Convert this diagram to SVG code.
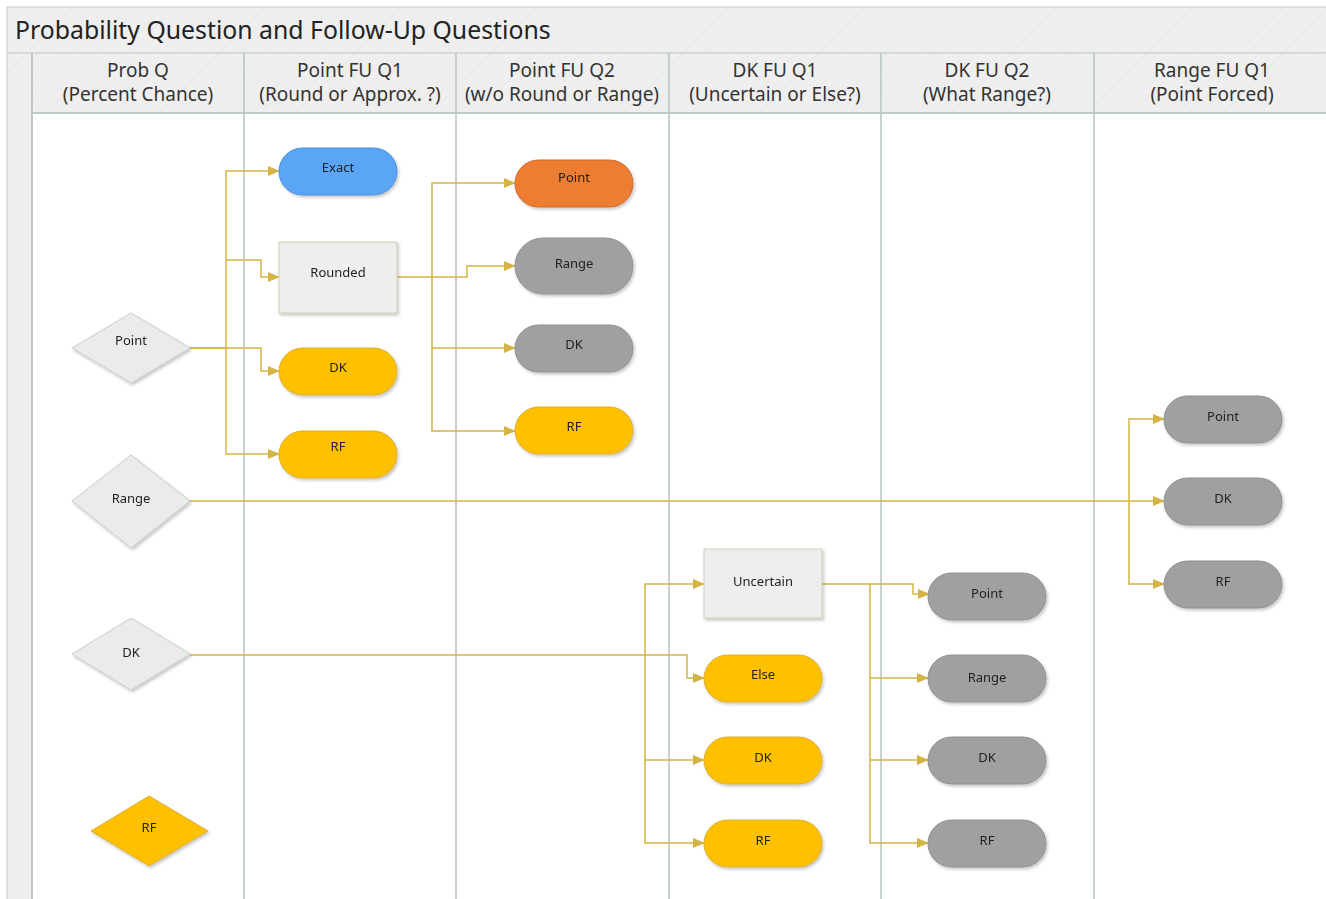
<svg xmlns="http://www.w3.org/2000/svg" width="1326" height="899" viewBox="0 0 1326 899">
<style>
.title{font-family:"Segoe UI","Noto Sans","Open Sans",sans-serif;font-size:24.8px;fill:#222}
.hdr{font-family:"Segoe UI","Noto Sans","Open Sans",sans-serif;font-size:19px;fill:#333;text-anchor:middle}
.lbl{font-family:"Segoe UI","Noto Sans","Open Sans",sans-serif;font-size:13px;fill:#222;text-anchor:middle}
.lane{stroke:#B6C3C3;stroke-width:1.5;fill:none}
.band{fill:#EFEFEF;stroke:#C9D2D0;stroke-width:1.2}
.conn path{fill:none;stroke:#D4B445;stroke-width:1.5;marker-end:url(#arr)}
.yel{fill:#FFC000;stroke:#D9AE3C;stroke-width:1}
.gry{fill:#A0A0A0;stroke:#8E9292;stroke-width:1}
.blu{fill:#5AA5F6;stroke:#4A90D8;stroke-width:1}
.org{fill:#ED7D31;stroke:#D06A28;stroke-width:1}
.lgt{fill:#EEEEEE;stroke:#CFCDB8;stroke-width:1}
.dia{fill:#EBEBEB;stroke:#C8CCCC;stroke-width:1}
.node{filter:url(#sh)}
.hat{fill:url(#hatch);pointer-events:none}
</style>
<defs>
<marker id="arr" markerWidth="12" markerHeight="10" refX="11" refY="5" orient="auto" markerUnits="userSpaceOnUse">
<path d="M0,0 L12,5 L0,10 Z" fill="#D4B445"/>
</marker>
<filter id="sh" x="-20%" y="-20%" width="140%" height="150%">
<feDropShadow dx="1.5" dy="2" stdDeviation="1.5" flood-color="#000" flood-opacity="0.22"/>
</filter>
<pattern id="hatch" width="8" height="8" patternUnits="userSpaceOnUse" patternTransform="rotate(45)">
<rect width="1" height="8" fill="#000" opacity="0.025"/>
</pattern>
</defs>

<rect x="0" y="0" width="1326" height="899" fill="#FFFFFF"/>
<rect class="band" x="7" y="7" width="1330" height="46"/>
<rect class="hat" x="7" y="7" width="1319" height="46"/>
<text class="title" x="15" y="39">Probability Question and Follow-Up Questions</text>
<rect class="band" x="7" y="53" width="25" height="850"/>
<rect class="band" x="32" y="53" width="1300" height="60"/>
<rect class="hat" x="7" y="53" width="1319" height="60"/>
<line class="lane" x1="32" y1="113" x2="1326" y2="113"/>
<line class="lane" x1="32" y1="53" x2="32" y2="899"/>
<line class="lane" x1="244" y1="53" x2="244" y2="899"/>
<line class="lane" x1="456" y1="53" x2="456" y2="899"/>
<line class="lane" x1="669" y1="53" x2="669" y2="899"/>
<line class="lane" x1="881" y1="53" x2="881" y2="899"/>
<line class="lane" x1="1094" y1="53" x2="1094" y2="899"/>

<g id="headers">
<text class="hdr" x="138" y="77">Prob Q</text><text class="hdr" x="138" y="101">(Percent Chance)</text>
<text class="hdr" x="350" y="77">Point FU Q1</text><text class="hdr" x="350" y="101">(Round or Approx. ?)</text>
<text class="hdr" x="562" y="77">Point FU Q2</text><text class="hdr" x="562" y="101">(w/o Round or Range)</text>
<text class="hdr" x="775" y="77">DK FU Q1</text><text class="hdr" x="775" y="101">(Uncertain or Else?)</text>
<text class="hdr" x="987" y="77">DK FU Q2</text><text class="hdr" x="987" y="101">(What Range?)</text>
<text class="hdr" x="1212" y="77">Range FU Q1</text><text class="hdr" x="1212" y="101">(Point Forced)</text>
</g>

<g id="connectors" class="conn">
<path d="M190,348 H226 V171 H279"/>
<path d="M226,260 H261 V277 H279"/>
<path d="M190,348 H261 V371 H279"/>
<path d="M226,348 V454 H279"/>
<path d="M397,277 H467 V266 H515"/>
<path d="M432,277 V183 H515"/>
<path d="M432,277 V431 H515"/>
<path d="M432,348 H515"/>
<path d="M190,501 H1164"/>
<path d="M1129,501 V419 H1164"/>
<path d="M1129,501 V584 H1164"/>
<path d="M190,655 H687 V678 H704"/>
<path d="M645,655 V584 H704"/>
<path d="M645,655 V843 H704"/>
<path d="M645,760 H704"/>
<path d="M822,584 H913 V594 H929"/>
<path d="M870,584 V843 H928"/>
<path d="M870,678 H928"/>
<path d="M870,760 H928"/>
</g>

<g id="n-point-q" class="node"><polygon class="dia" points="72,348 131,313 190,348 131,383"/><text class="lbl" x="131" y="345">Point</text></g>
<g id="n-range-q" class="node"><polygon class="dia" points="72,501 131,455 190,501 131,548"/><text class="lbl" x="131" y="503">Range</text></g>
<g id="n-dk-q" class="node"><polygon class="dia" points="72,654 131,618 190,654 131,690"/><text class="lbl" x="131" y="657">DK</text></g>
<g id="n-rf-q" class="node"><polygon class="yel" points="91,831 149,796 208,831 149,866"/><text class="lbl" x="149" y="832">RF</text></g>

<g id="n-exact" class="node"><rect class="blu" x="279" y="148" width="118" height="47" rx="23.5"/><text class="lbl" x="338" y="172">Exact</text></g>
<g id="n-rounded" class="node"><rect class="lgt" x="279" y="242" width="118" height="71"/><text class="lbl" x="338" y="277">Rounded</text></g>
<g id="n-dk1" class="node"><rect class="yel" x="279" y="348" width="118" height="47" rx="23.5"/><text class="lbl" x="338" y="372">DK</text></g>
<g id="n-rf1" class="node"><rect class="yel" x="279" y="431" width="118" height="47" rx="23.5"/><text class="lbl" x="338" y="451">RF</text></g>

<g id="n-point2" class="node"><rect class="org" x="515" y="160" width="118" height="47" rx="23.5"/><text class="lbl" x="574" y="182">Point</text></g>
<g id="n-range2" class="node"><rect class="gry" x="515" y="238" width="118" height="56" rx="28"/><text class="lbl" x="574" y="268">Range</text></g>
<g id="n-dk2" class="node"><rect class="gry" x="515" y="325" width="118" height="47" rx="23.5"/><text class="lbl" x="574" y="349">DK</text></g>
<g id="n-rf2" class="node"><rect class="yel" x="515" y="407" width="118" height="47" rx="23.5"/><text class="lbl" x="574" y="431">RF</text></g>

<g id="n-uncertain" class="node"><rect class="lgt" x="704" y="549" width="118" height="69"/><text class="lbl" x="763" y="586">Uncertain</text></g>
<g id="n-else" class="node"><rect class="yel" x="704" y="655" width="118" height="47" rx="23.5"/><text class="lbl" x="763" y="679">Else</text></g>
<g id="n-dk3" class="node"><rect class="yel" x="704" y="737" width="118" height="47" rx="23.5"/><text class="lbl" x="763" y="762">DK</text></g>
<g id="n-rf3" class="node"><rect class="yel" x="704" y="820" width="118" height="47" rx="23.5"/><text class="lbl" x="763" y="845">RF</text></g>

<g id="n-point4" class="node"><rect class="gry" x="928" y="573" width="118" height="47" rx="23.5"/><text class="lbl" x="987" y="598">Point</text></g>
<g id="n-range4" class="node"><rect class="gry" x="928" y="655" width="118" height="47" rx="23.5"/><text class="lbl" x="987" y="682">Range</text></g>
<g id="n-dk4" class="node"><rect class="gry" x="928" y="737" width="118" height="47" rx="23.5"/><text class="lbl" x="987" y="762">DK</text></g>
<g id="n-rf4" class="node"><rect class="gry" x="928" y="820" width="118" height="47" rx="23.5"/><text class="lbl" x="987" y="845">RF</text></g>

<g id="n-point5" class="node"><rect class="gry" x="1164" y="396" width="118" height="47" rx="23.5"/><text class="lbl" x="1223" y="421">Point</text></g>
<g id="n-dk5" class="node"><rect class="gry" x="1164" y="478" width="118" height="47" rx="23.5"/><text class="lbl" x="1223" y="503">DK</text></g>
<g id="n-rf5" class="node"><rect class="gry" x="1164" y="561" width="118" height="47" rx="23.5"/><text class="lbl" x="1223" y="586">RF</text></g>
</svg>
